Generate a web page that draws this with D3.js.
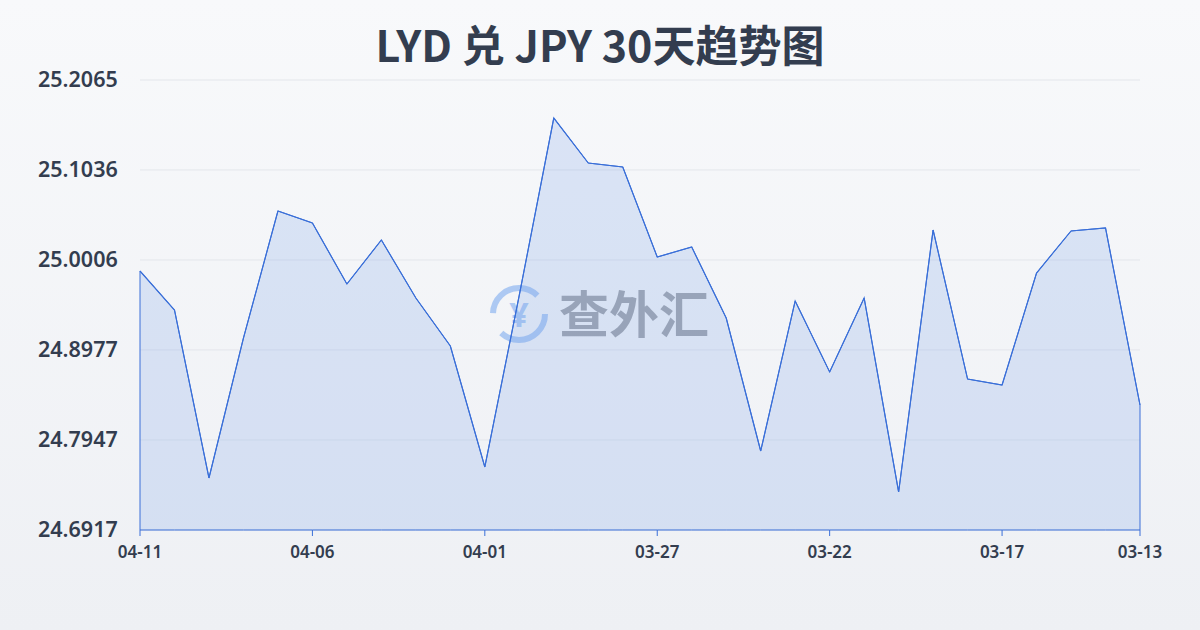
<!DOCTYPE html>
<html><head><meta charset="utf-8">
<script src="https://cdn.jsdelivr.net/npm/d3@7"></script>
<style>body{margin:0;font-family:"Noto Sans","Noto Sans CJK SC",sans-serif;}</style>
</head><body><svg id="c" width="1200" height="630"></svg>
<script>
const dates=["04-11","04-10","04-09","04-08","04-07","04-06","04-05","04-04","04-03","04-02","04-01","03-31","03-30","03-29","03-28","03-27","03-26","03-25","03-24","03-23","03-22","03-21","03-20","03-19","03-18","03-17","03-16","03-15","03-14","03-13"];
const values=[24.9880,24.9434,24.7512,24.9113,25.0566,25.0429,24.9731,25.0235,24.9571,24.9022,24.7638,24.9605,25.1630,25.1115,25.1070,25.0040,25.0154,24.9342,24.7821,24.9537,24.8725,24.9571,24.7352,25.0349,24.8644,24.8576,24.9857,25.0338,25.0372,24.8347];
const yTicks=[24.6917,24.7947,24.8977,25.0006,25.1036,25.2065];
const xTickLabels=["04-11","04-06","04-01","03-27","03-22","03-17","03-13"];
const svg=d3.select("#c");
const defs=svg.append("defs");
const bg=defs.append("linearGradient").attr("id","bg").attr("x1",0).attr("y1",0).attr("x2",0).attr("y2",1);
bg.append("stop").attr("offset",0).attr("stop-color","#f8f9fb");
bg.append("stop").attr("offset",1).attr("stop-color","#eef0f4");
svg.append("rect").attr("width",1200).attr("height",630).attr("fill","url(#bg)");
const x=d3.scalePoint().domain(dates).range([140,1140]);
const y=d3.scaleLinear().domain([24.6917,25.2065]).range([530,80]);
svg.append("g").selectAll("line").data(yTicks).join("line")
 .attr("x1",140).attr("x2",1140).attr("y1",d=>y(d)).attr("y2",d=>y(d)).attr("stroke","#e3e6eb").attr("stroke-width",1);
svg.append("g").selectAll("text").data(yTicks).join("text")
 .attr("x",38).attr("y",d=>y(d)+7).text(d=>d.toFixed(4)).attr("font-size",21.5).attr("font-weight",600).attr("fill","#333d4f");
// watermark
const wm=svg.append("g").attr("opacity",0.6);
wm.append("circle").attr("cx",519).attr("cy",314).attr("r",26).attr("fill","none").attr("stroke","#7fadf0").attr("stroke-width",6).attr("stroke-dasharray","60 22");
wm.append("text").attr("x",519).attr("y",327).attr("text-anchor","middle").attr("font-size",34).attr("font-weight",700).attr("fill","#7fadf0").text("¥");
wm.append("text").attr("x",559).attr("y",333).attr("font-size",50).attr("font-weight",700).attr("fill","#6d727b").attr("font-family","Noto Sans CJK SC").text("查外汇");
const area=d3.area().x((d,i)=>x(dates[i])).y0(530).y1(d=>y(d));
svg.append("path").datum(values).attr("d",area).attr("fill","rgba(120,160,230,0.22)").attr("stroke","#3a6fd8").attr("stroke-width",1);
svg.append("path").datum(values).attr("d",d3.line().x((d,i)=>x(dates[i])).y(d=>y(d))).attr("fill","none").attr("stroke","#3a6fd8").attr("stroke-width",1.2);
svg.append("g").selectAll("line").data(xTickLabels).join("line")
 .attr("x1",d=>x(d)).attr("x2",d=>x(d)).attr("y1",530).attr("y2",536).attr("stroke","#3a6fd8");
svg.append("g").selectAll("text").data(xTickLabels).join("text")
 .attr("x",d=>x(d)).attr("y",558).attr("text-anchor","middle").text(d=>d).attr("font-size",17).attr("font-weight",600).attr("fill","#333d4f");
svg.append("text").attr("x",600).attr("y",62).attr("text-anchor","middle").attr("font-size",43).attr("font-weight",700).attr("fill","#333d4f").attr("font-family","Noto Sans CJK SC").text("LYD 兑 JPY 30天趋势图");
</script></body></html>
